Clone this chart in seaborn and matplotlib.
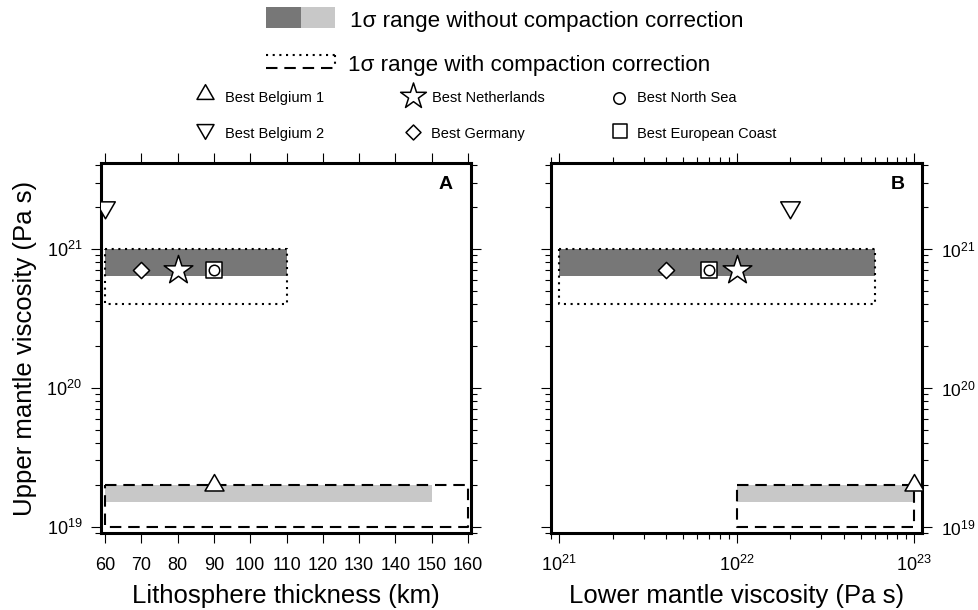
import numpy as np
import pandas as pd
import matplotlib
matplotlib.use("Agg")
import matplotlib.pyplot as plt
import seaborn as sns
from matplotlib.path import Path
from matplotlib.markers import MarkerStyle
from matplotlib.patches import Rectangle
from matplotlib.ticker import FixedLocator, LogLocator, NullFormatter, LogFormatterSciNotation

sns.set_theme(style="ticks")
plt.rcParams["font.family"] = ["Liberation Sans", "DejaVu Sans"]
plt.rcParams.update({
    "mathtext.fontset": "custom",
    "mathtext.rm": "Liberation Sans",
    "mathtext.it": "Liberation Sans:italic",
    "mathtext.bf": "Liberation Sans:bold",
    "mathtext.sf": "Liberation Sans",
    "axes.edgecolor": "black",
    "text.color": "black",
    "axes.labelcolor": "black",
    "xtick.color": "black",
    "ytick.color": "black",
})

# ---------------- data ----------------
sites = ["Best Belgium 1", "Best Belgium 2", "Best Netherlands",
         "Best North Sea", "Best Germany", "Best European Coast"]
lith_best = [90, 60, 80, 90, 70, 90]                 # km
lower_best = [1e23, 2e22, 1e22, 7e21, 4e21, 7e21]    # Pa s
upper_best = [2e19, 2e21, 7e20, 7e20, 7e20, 7e20]    # Pa s

# 1-sigma ranges, panel A (lithosphere thickness)
a_dark_x, a_dark_y = [60, 110], [6.4e20, 1.0e21]
a_light_x, a_light_y = [60, 150], [1.5e19, 2.0e19]
a_dot_x, a_dot_y = [60, 110], [4.0e20, 1.0e21]
a_dash_x, a_dash_y = [60, 160], [1.0e19, 2.0e19]

# 1-sigma ranges, panel B (lower mantle viscosity)
b_dark_x, b_dark_y = [1e21, 6e22], [6.4e20, 1.0e21]
b_light_x, b_light_y = [1e22, 1e23], [1.5e19, 2.0e19]
b_dot_x, b_dot_y = [1e21, 6e22], [4.0e20, 1.0e21]
b_dash_x, b_dash_y = [1e22, 1e23], [1.0e19, 2.0e19]

a_xticks = [60, 70, 80, 90, 100, 110, 120, 130, 140, 150, 160]
b_xticks = [1e21, 1e22, 1e23]
y_ticks = [1e19, 1e20, 1e21]

DARK = "#777777"
LIGHT = "#c8c8c8"

# ---------------- marker shapes ----------------
def tri_path(up=True):
    s = 1 if up else -1
    return Path([(0, s * 1.0), (-0.866, -s * 0.5), (0.866, -s * 0.5), (0, 0)], closed=True)

marker_style = {
    "Best European Coast": (MarkerStyle("s"), 132, 1.1),
    "Best North Sea": (MarkerStyle("o"), 57, 1.1),
    "Best Germany": (MarkerStyle("D"), 68, 1.1),
    "Best Netherlands": (MarkerStyle("*"), 470, 1.1),
    "Best Belgium 1": (MarkerStyle(tri_path(True), joinstyle="miter"), 250, 1.1),
    "Best Belgium 2": (MarkerStyle(tri_path(False), joinstyle="miter"), 265, 1.1),
}
draw_order = ["Best European Coast", "Best North Sea", "Best Germany",
              "Best Netherlands", "Best Belgium 1", "Best Belgium 2"]

df = pd.DataFrame({"site": sites, "lith": lith_best,
                   "lower": lower_best, "upper": upper_best})

# ---------------- figure ----------------
fig = plt.figure(figsize=(9.79, 6.10), dpi=100)
axA = fig.add_axes([101 / 979, 1 - 533 / 610, 370 / 979, 370 / 610])
axB = fig.add_axes([551 / 979, 1 - 533 / 610, 370.7 / 979, 370 / 610])

DOT = (0, (1, 2.2))
DASH = (0, (5.5, 3.3))


def draw_box(ax, xs, ys, ls):
    bx = [xs[0], xs[1], xs[1], xs[0], xs[0]]
    by = [ys[1], ys[1], ys[0], ys[0], ys[1]]
    ax.plot(bx, by, color="black", lw=1.5, ls=ls, zorder=3, solid_capstyle="butt",
            dash_capstyle="butt")


def draw_panel(ax, xcol, dark, light, dot, dash):
    for (xs, ys), col in ((dark, DARK), (light, LIGHT)):
        ax.fill_between(xs, ys[0], ys[1], color=col, lw=0, zorder=2)
    draw_box(ax, dot[0], dot[1], DOT)
    draw_box(ax, dash[0], dash[1], DASH)
    for name in draw_order:
        m, s, lw = marker_style[name]
        sns.scatterplot(data=df[df.site == name], x=xcol, y="upper", ax=ax,
                        marker=m, s=s, facecolor="white", edgecolor="black",
                        linewidth=lw, zorder=5, legend=False)
    ax.set_yscale("log")
    ax.set_ylim(9e18, 4.15e21)
    ax.yaxis.set_major_locator(FixedLocator(y_ticks))
    ax.yaxis.set_major_formatter(LogFormatterSciNotation())
    ax.yaxis.set_minor_locator(LogLocator(base=10, subs=np.arange(2, 10)))
    ax.yaxis.set_minor_formatter(NullFormatter())
    for sp in ax.spines.values():
        sp.set_visible(True)
        sp.set_linewidth(2.2)
        sp.set_color("black")
    ax.tick_params(which="both", direction="out", top=True, right=True, left=True,
                   bottom=True, width=0.8, labelsize=13)
    ax.tick_params(which="major", length=7.5)
    ax.tick_params(which="minor", length=4)
    ax.set_ylabel("")


draw_panel(axA, "lith", (a_dark_x, a_dark_y), (a_light_x, a_light_y),
           (a_dot_x, a_dot_y), (a_dash_x, a_dash_y))
axA.set_xlim(58.9, 160.8)
axA.xaxis.set_major_locator(FixedLocator(a_xticks))
axA.set_xticklabels([str(t) for t in a_xticks])
axA.tick_params(axis="x", pad=10)
axA.tick_params(axis="y", pad=6, labelleft=True, labelright=False)
axA.set_xlabel("Lithosphere thickness (km)", fontsize=18.5, labelpad=7)
axA.set_ylabel("Upper mantle viscosity (Pa s)", fontsize=18.5, labelpad=7)
axA.text(0.951, 0.965, "A", transform=axA.transAxes, ha="right", va="top",
         fontsize=14, fontweight="bold")

draw_panel(axB, "lower", (b_dark_x, b_dark_y), (b_light_x, b_light_y),
           (b_dot_x, b_dot_y), (b_dash_x, b_dash_y))
axB.set_xscale("log")
axB.set_xlim(9e20, 1.1e23)
axB.xaxis.set_major_locator(FixedLocator(b_xticks))
axB.xaxis.set_major_formatter(LogFormatterSciNotation())
axB.xaxis.set_minor_locator(LogLocator(base=10, subs=np.arange(2, 10)))
axB.xaxis.set_minor_formatter(NullFormatter())
axB.tick_params(axis="x", pad=8)
axB.tick_params(axis="y", pad=6.5, labelsize=12.5, labelleft=False, labelright=True)
axB.set_xlabel("Lower mantle viscosity (Pa s)", fontsize=18.5, labelpad=7)
axB.text(0.953, 0.965, "B", transform=axB.transAxes, ha="right", va="top",
         fontsize=14, fontweight="bold")

# ---------------- key (pixel coordinates) ----------------
key = fig.add_axes([0, 0, 1, 1], zorder=10)
key.set_xlim(0, 979)
key.set_ylim(610, 0)
key.axis("off")
key.patch.set_alpha(0)

key.add_patch(Rectangle((266, 7.3), 34.7, 20.4, color=DARK, lw=0))
key.add_patch(Rectangle((300.7, 7.3), 34.3, 20.4, color=LIGHT, lw=0))
key.text(350, 27.5, "1σ range without compaction correction", fontsize=16.1,
         va="baseline", ha="left")

key.plot([266, 335], [55, 55], color="black", lw=1.5, ls=DOT)
key.plot([266, 335], [68.3, 68.3], color="black", lw=1.5, ls=DASH)
key.plot([335, 335], [55, 68.3], color="black", lw=1.5, ls=DOT)
key.text(348, 70.7, "1σ range with compaction correction", fontsize=16.1,
         va="baseline", ha="left")

legend_slots = {
    "Best Belgium 1": (205, 94, 225, 101.7, 200),
    "Best Belgium 2": (205, 129, 225, 138.3, 200),
    "Best Netherlands": (413, 96, 431.7, 101.7, 380),
    "Best Germany": (413, 131.7, 430.7, 138.3, 58),
    "Best North Sea": (619, 97.5, 637.3, 101.7, 68),
    "Best European Coast": (620, 130.8, 637.3, 138.3, 110),
}
for name, (mx, my, tx, ty, s) in legend_slots.items():
    m, _, lw = marker_style[name]
    key.scatter([mx], [my], marker=m, s=s, facecolor="white", edgecolor="black",
                linewidth=lw, clip_on=False)
    key.text(tx, ty, name, fontsize=10.5, va="baseline", ha="left")

fig.savefig("out.png", dpi=100)
